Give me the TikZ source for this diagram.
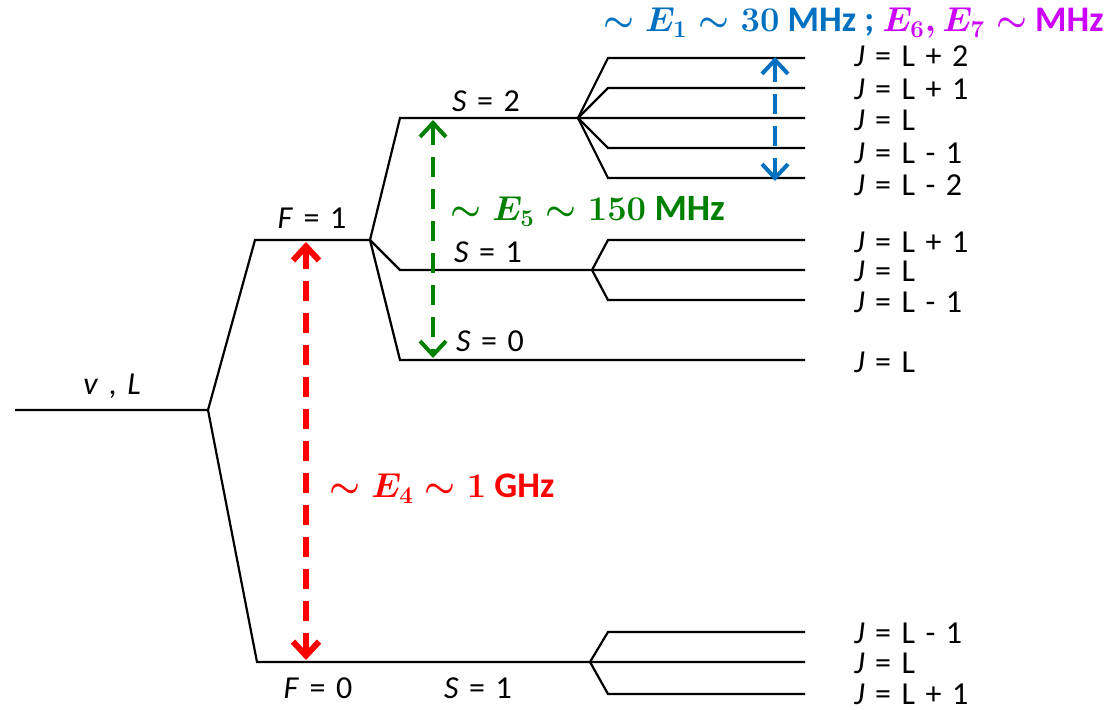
\documentclass[tikz,border=0pt]{standalone}
\usepackage{amsmath}
\usepackage{fontspec}
\setmainfont{Carlito}
\usetikzlibrary{arrows.meta}
\definecolor{eblue}{RGB}{0,112,192}
\definecolor{egreen}{RGB}{0,128,0}
\definecolor{ered}{RGB}{255,0,0}
\definecolor{emag}{RGB}{204,0,255}
\newcommand{\gap}{\hspace{0.33em}}
\newcommand{\jl}[1]{\textit{J}\gap=\gap L#1}

\begin{document}
\begin{tikzpicture}[
  x=0.5pt, y=-0.5pt,
  font=\fontsize{16}{18}\selectfont,
  level/.style={draw, line width=1.1pt},
  lab/.style={inner sep=0pt},
  jlab/.style={inner sep=0pt, anchor=west},
  big/.style={inner sep=0pt, font=\fontsize{18}{21}\selectfont\bfseries},
  split/.style={line width=#1, dash pattern=on 10pt off 6pt,
    {Straight Barb[length=7pt, width=13pt, line width=#1]}-{Straight Barb[length=7pt, width=13pt, line width=#1]}}
]
\useasboundingbox (0,0) rectangle (1119,710);

% levels
\coordinate (vl) at (15,410);   \coordinate (vr) at (208,410);
\coordinate (f1l) at (255,240); \coordinate (f1r) at (370,240);
\coordinate (f0l) at (257,662); \coordinate (f0r) at (590,662);
\coordinate (s2l) at (400,118); \coordinate (s2r) at (578,118);
\coordinate (s1l) at (400,270); \coordinate (s1r) at (592,270);
\coordinate (s0l) at (400,360); \coordinate (s0r) at (805,360);

\draw[level] (vl) -- (vr) -- (f1l) -- (f1r);
\draw[level] (vr) -- (f0l) -- (f0r) -- (805,662);
\draw[level] (f1r) -- (s2l) -- (s2r) -- (805,118);
\draw[level] (f1r) -- (s1l) -- (s1r) -- (805,270);
\draw[level] (f1r) -- (s0l) -- (s0r);
\foreach \y in {58,88,148,178}
  \draw[level] (s2r) -- (608,\y) -- (805,\y);
\foreach \y in {240,300}
  \draw[level] (s1r) -- (608,\y) -- (805,\y);
\foreach \y in {632,694}
  \draw[level] (f0r) -- (608,\y) -- (805,\y);

% level labels
\node[lab] (vlab)  at (112,386) {\textit{v}\gap,\gap\textit{L}};
\node[lab] (f1lab) at (312,218) {\textit{F}\gap=\gap1};
\node[lab] (f0lab) at (318,688) {\textit{F}\gap=\gap0};
\node[lab] (s2lab) at (486,101) {\textit{S}\gap=\gap2};
\node[lab] (s1lab) at (488,252) {\textit{S}\gap=\gap1};
\node[lab] (s0lab) at (490,341) {\textit{S}\gap=\gap0};
\node[lab] (s1blab) at (478,688) {\textit{S}\gap=\gap1};

\node[jlab] (j1) at (854,56)  {\jl{\gap+\gap2}};
\node[jlab] (j2) at (854,89)  {\jl{\gap+\gap1}};
\node[jlab] (j3) at (854,120) {\jl{}};
\node[jlab] (j4) at (854,153) {\jl{\gap-\gap1}};
\node[jlab] (j5) at (854,185) {\jl{\gap-\gap2}};
\node[jlab] (j6) at (854,242) {\jl{\gap+\gap1}};
\node[jlab] (j7) at (854,271) {\jl{}};
\node[jlab] (j8) at (854,302) {\jl{\gap-\gap1}};
\node[jlab] (j9) at (854,362) {\jl{}};
\node[jlab] (j10) at (854,633) {\jl{\gap-\gap1}};
\node[jlab] (j11) at (854,663) {\jl{}};
\node[jlab] (j12) at (854,694) {\jl{\gap+\gap1}};

% splittings
\coordinate (e1t) at (775,57);  \coordinate (e1b) at (775,181);
\coordinate (e5t) at (433,120); \coordinate (e5b) at (433,358);
\coordinate (e4t) at (306,242); \coordinate (e4b) at (306,660);
\draw[split=2pt, eblue]  (e1t) -- (e1b);
\draw[split=2pt, egreen] (e5t) -- (e5b);
\draw[split=3pt, ered]   (e4t) -- (e4b);

\node[big, text=eblue, anchor=base east] (e1lab) at (1104,32)
  {$\boldsymbol{\sim E_1 \sim \mathbf{30}}$ MHz ; \textcolor{emag}{$\boldsymbol{E_6, E_7 \sim}$ MHz}};
\node[big, text=egreen, anchor=base west, font=\fontsize{18.5}{21}\selectfont\bfseries] (e5lab) at (450,221)
  {$\boldsymbol{\sim E_5 \sim \mathbf{150}}$ MHz};
\node[big, text=ered, anchor=base west] (e4lab) at (329,498)
  {$\boldsymbol{\sim E_4 \sim \mathbf{1}}$ GHz};
\end{tikzpicture}
\end{document}
